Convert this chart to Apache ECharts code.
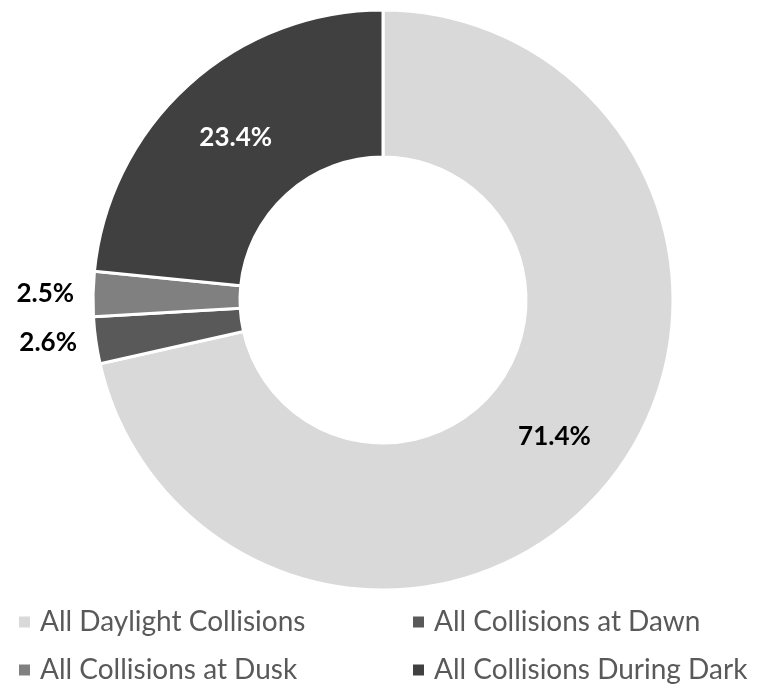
<!DOCTYPE html>
<html>
<head>
<meta charset="utf-8">
<script src="https://cdn.jsdelivr.net/npm/echarts@6/dist/echarts.min.js"></script>
<style>
  html, body { margin: 0; padding: 0; background: #fff; }
  #chart { width: 762px; height: 692px; }
</style>
</head>
<body>
<div id="chart"></div>
<script>
// Collision share by light condition (percent)
const categories = [
  'All Daylight Collisions',
  'All Collisions at Dawn',
  'All Collisions at Dusk',
  'All Collisions During Dark'
];
const shares = [71.4, 2.6, 2.5, 23.4];
const colors = ['#d9d9d9', '#595959', '#808080', '#404040'];
// label placement: big slices inside the ring, thin slices outside
const labelInside = [true, false, false, true];
const labelColors = ['#000000', '#000000', '#000000', '#ffffff'];

const FONT = 'Lato, "Open Sans", sans-serif';

const data = categories.map((name, i) => ({
  name,
  value: shares[i],
  itemStyle: { color: colors[i] },
  label: {
    position: labelInside[i] ? 'inside' : 'outside',
    color: labelColors[i]
  }
}));

const legendText = {
  fontFamily: FONT,
  fontSize: 28,
  lineHeight: 28,
  color: '#595959',
  padding: [0, 0, 0, 4]
};

// two fixed columns of legend entries
function legendColumn(names, left) {
  return {
    data: names,
    orient: 'vertical',
    left,
    top: 608,
    height: 84,
    padding: 0,
    itemWidth: 13,
    itemHeight: 13,
    itemGap: 20,
    icon: 'rect',
    textStyle: legendText
  };
}

const chart = echarts.init(document.getElementById('chart'));
chart.setOption({
  animation: false,
  legend: [
    legendColumn([categories[0], categories[2]], 17),
    legendColumn([categories[1], categories[3]], 411)
  ],
  series: [{
    type: 'pie',
    center: [383, 300],
    radius: [143, 290],
    startAngle: 90,
    clockwise: true,
    avoidLabelOverlap: false,
    itemStyle: { borderColor: '#ffffff', borderWidth: 3 },
    label: {
      show: true,
      formatter: p => p.value.toFixed(1) + '%',
      fontFamily: FONT,
      fontWeight: 'bold',
      fontSize: 26
    },
    labelLine: { show: false, length: 14, length2: 0 },
    data
  }]
});
</script>
</body>
</html>
